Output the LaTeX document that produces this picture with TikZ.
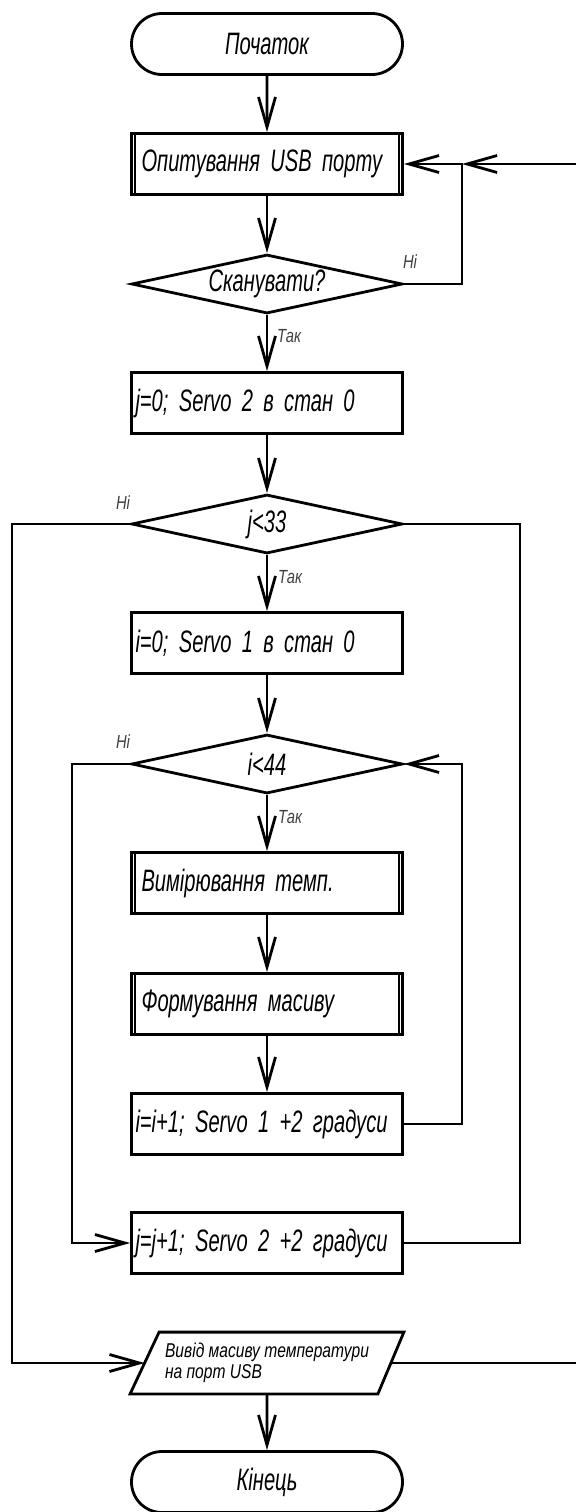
\documentclass[tikz,border=0pt]{standalone}
\usepackage{fontspec}
\setmainfont{Liberation Sans}[FakeStretch=0.65]
\newfontfamily\smallfont{Liberation Sans}[FakeStretch=0.78]
\usepackage{tikz}
\usetikzlibrary{arrows.meta,shapes.geometric,shapes.misc}

\begin{document}
\begin{tikzpicture}[x=0.5pt, y=-0.5pt, line width=1.4pt,
        >={Straight Barb[length=15pt,width=8.5pt]},
        term/.style={draw, rounded rectangle, minimum width=135.5pt, minimum height=30.5pt, inner sep=0pt, font=\itshape\fontsize{15.5}{17}\selectfont},
        box/.style={draw, rectangle, minimum width=135.5pt, minimum height=30.5pt, inner xsep=2pt, text width=131.5pt, align=left, font=\itshape\fontsize{15.5}{17}\selectfont},
        subproc/.style={box, inner xsep=5pt, text width=125.5pt},
        cond/.style={draw, diamond, aspect=4.6, minimum width=135.5pt, minimum height=29.5pt, inner sep=0pt, font=\itshape\fontsize{15.5}{17}\selectfont},
        io/.style={rectangle, minimum width=135.5pt, minimum height=29.5pt, inner sep=0pt, align=left, font=\smallfont\itshape\fontsize{10}{10.5}\selectfont},
        lbl/.style={inner sep=0pt, text=black!75, font=\smallfont\itshape\fontsize{9.5}{10}\selectfont}]
        \useasboundingbox (0,0) rectangle (576,1512);

        % Blocks.
        \node[term] (start) at (267,44) {Початок};
        \node[subproc] (poll) at (267,164) {Опитування USB порту};
        \node[cond] (scan) at (267,284) {Сканувати?};
        \node[box] (setj) at (267,403) {j=0; Servo 2 в стан 0};
        \node[cond] (condj) at (267,524) {j<33};
        \node[box] (seti) at (267,643) {i=0; Servo 1 в стан 0};
        \node[cond] (condi) at (267,764) {i<44};
        \node[subproc] (meas) at (267,883) {Вимірювання темп.};
        \node[subproc] (build) at (267,1004) {Формування масиву};
        \node[box] (inci) at (267,1124) {i=i+1; Servo 1 +2 градуси};
        \node[box] (incj) at (267,1243) {j=j+1; Servo 2 +2 градуси};
        \node[io] (out) at (267,1363) {Вивід масиву температури\\на порт USB};
        \node[term] (stop) at (267,1482) {Кінець};

        % double bars
        \foreach \b in {poll,meas,build}{
            \draw[line width=0.8pt] ([xshift=2.5pt]\b.north west) -- ([xshift=2.5pt]\b.south west);
            \draw[line width=0.8pt] ([xshift=-2.5pt]\b.north east) -- ([xshift=-2.5pt]\b.south east);
        }

        % slanted sides of the output block
        \draw ([xshift=14.5pt]out.north west) -- (out.north east) -- ([xshift=-13pt]out.south east) -- (out.south west) -- cycle;
        \coordinate (outin) at ([xshift=7.25pt]out.west);
        \coordinate (outout) at ([xshift=-6.5pt]out.east);

        % Corners of the loops.
        \coordinate (pollin) at (462,164);
        \coordinate (edgetop) at (582,164);
        \coordinate (jleft) at (12,524);
        \coordinate (jright) at (520,524);
        \coordinate (ileft) at (72,764);
        \coordinate (iright) at (462,764);
        \coordinate (edgebot) at (582,1363);

        % Main line.
        \draw[->] (start) -- (poll);
        \draw[->] (poll) -- (scan);
        \draw[->] (scan) -- (setj);
        \draw[->] (setj) -- (condj);
        \draw[->] (condj) -- (seti);
        \draw[->] (seti) -- (condi);
        \draw[->] (condi) -- (meas);
        \draw[->] (meas) -- (build);
        \draw[->] (build) -- (inci);
        \draw[->] (out) -- (stop);

        %scan loop
        \draw[->] (scan.east) -| (pollin) -- (poll.east);
        \draw[->] (edgetop) -- (pollin);

        %j loop
        \draw[->] (condj.west) -- (jleft) |- (outin);
        \draw (incj.east) -| (jright) -- (condj.east);

        %i loop
        \draw[->] (condi.west) -- (ileft) |- (incj.west);
        \draw[->] (inci.east) -| (iright) -- (condi.east);

        \draw (outout) -- (edgebot);

        % Labels.
        \node[lbl] (noscan) at (410,262) {Ні};
        \node[lbl] (yesscan) at (289,336) {Так};
        \node[lbl] (noj) at (123,503) {Ні};
        \node[lbl] (yesj) at (290,577) {Так};
        \node[lbl] (noi) at (123,742) {Ні};
        \node[lbl] (yesi) at (290,817) {Так};
\end{tikzpicture}
\end{document}
